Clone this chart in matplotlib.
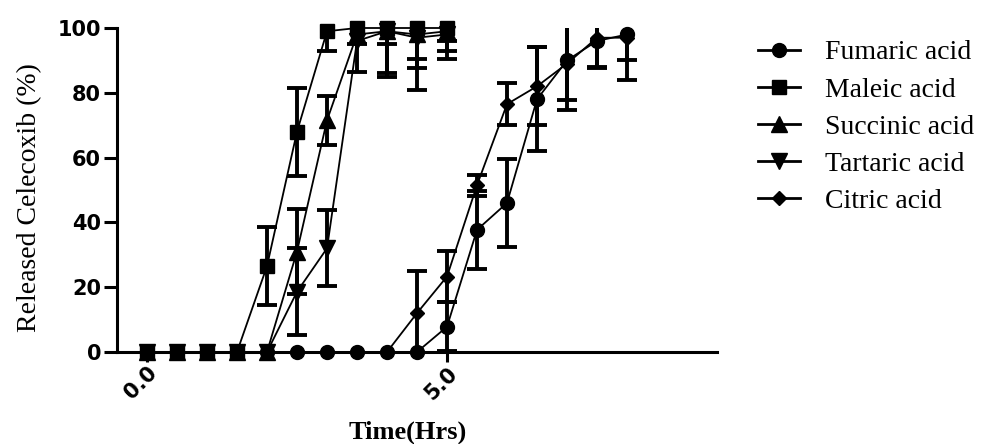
import matplotlib
matplotlib.use("Agg")
import matplotlib.pyplot as plt
import numpy as np

# ---- data ----
time_long = [0.0, 0.5, 1.0, 1.5, 2.0, 2.5, 3.0, 3.5, 4.0, 4.5, 5.0, 5.5, 6.0, 6.5, 7.0, 7.5, 8.0]
time_short = [0.0, 0.5, 1.0, 1.5, 2.0, 2.5, 3.0, 3.5, 4.0, 4.5, 5.0]

fumaric = [0, 0, 0, 0, 0, 0, 0, 0, 0, 0, 7.8, 37.7, 46.0, 78.0, 90.0, 96.0, 98.0]
fumaric_sd = [0, 0, 0, 0, 0, 0, 0, 0, 0, 0, 7.5, 12.0, 13.5, 16.0, 12.3, 8.0, 8.0]

maleic = [0, 0, 0, 0, 26.5, 68.0, 99.0, 100.0, 100.0, 100.0, 100.0]
maleic_sd = [0, 0, 0, 0, 12.0, 13.6, 6.0, 0, 5.0, 9.5, 4.0]

succinic = [0, 0, 0, 0, 0, 31.0, 71.5, 98.0, 99.0, 98.0, 99.0]
succinic_sd = [0, 0, 0, 0, 0, 13.0, 7.5, 3.0, 13.0, 10.5, 6.0]

tartaric = [0, 0, 0, 0, 0, 18.6, 32.0, 96.0, 99.0, 97.0, 98.0]
tartaric_sd = [0, 0, 0, 0, 0, 13.4, 11.7, 9.5, 14.0, 16.0, 7.5]

citric = [0, 0, 0, 0, 0, 0, 0, 0, 0, 12.0, 23.3, 51.5, 76.5, 82.0, 89.0, 97.0, 97.0]
citric_sd = [0, 0, 0, 0, 0, 0, 0, 0, 0, 13.0, 7.8, 3.2, 6.5, 12.0, 14.3, 9.5, 13.0]

series_names = ["Fumaric acid", "Maleic acid", "Succinic acid", "Tartaric acid", "Citric acid"]
x_ticks = [0.0, 5.0]
x_tick_labels = ["0.0", "5.0"]
y_ticks = [0, 20, 40, 60, 80, 100]

# ---- styling ----
series = [
    (time_long, fumaric, fumaric_sd, "o", 10),
    (time_short, maleic, maleic_sd, "s", 10.5),
    (time_short, succinic, succinic_sd, "^", 11),
    (time_short, tartaric, tartaric_sd, "v", 11),
    (time_long, citric, citric_sd, "D", 7.5),
]

fig = plt.figure(figsize=(10.07, 4.44), dpi=100)
ax = fig.add_axes([117 / 1007, 1 - 352 / 444, 600 / 1007, 324 / 444])

handles = []
for (t, y, sd, mk, ms), name in zip(series, series_names):
    t = np.asarray(t, float)
    y = np.asarray(y, float)
    sd = np.asarray(sd, float)
    m = sd > 0
    ax.errorbar(t[m], y[m], yerr=sd[m], fmt="none", ecolor="black",
                elinewidth=2.8, capsize=7, capthick=2.8, zorder=2)
    ln, = ax.plot(t, y, color="black", lw=1.3, marker=mk, ms=ms,
                  markerfacecolor="black", markeredgecolor="black",
                  clip_on=False, zorder=3, label=name)
    handles.append(ln)

ax.set_xlim(-0.5, 9.5)
ax.set_ylim(0, 100)
for s in ["top", "right"]:
    ax.spines[s].set_visible(False)
for s in ["left", "bottom"]:
    ax.spines[s].set_linewidth(2.2)

tick_font = dict(fontfamily="DejaVu Sans", fontweight="bold", fontsize=15)
ax.set_xticks(x_ticks)
ax.set_xticklabels(x_tick_labels, rotation=45, ha="right", rotation_mode="anchor", **tick_font)
ax.set_yticks(y_ticks)
ax.set_yticklabels([str(v) for v in y_ticks], **tick_font)
ax.tick_params(axis="y", length=9.5, width=2.2, pad=2)
ax.tick_params(axis="x", length=7, width=2.2, pad=1)

ax.set_ylabel("Released Celecoxib (%)", fontfamily="Liberation Serif", fontsize=20)
ax.yaxis.set_label_coords(-0.125, 0.478)
ax.set_xlabel("Time(Hrs)", fontfamily="Liberation Serif", fontweight="bold", fontsize=19)
ax.xaxis.set_label_coords(0.485, -0.212)

leg = fig.legend(handles=handles, loc="upper left",
                 bbox_to_anchor=(758 / 1007, 1 - 40 / 444),
                 bbox_transform=fig.transFigure, frameon=False,
                 prop={"family": "Liberation Serif", "size": 20},
                 handlelength=1.5, handletextpad=0.9, labelspacing=0.42,
                 borderpad=0, borderaxespad=0)
for h in leg.legend_handles:
    h.set_linewidth(2.0)

fig.savefig("out.png", dpi=100)
